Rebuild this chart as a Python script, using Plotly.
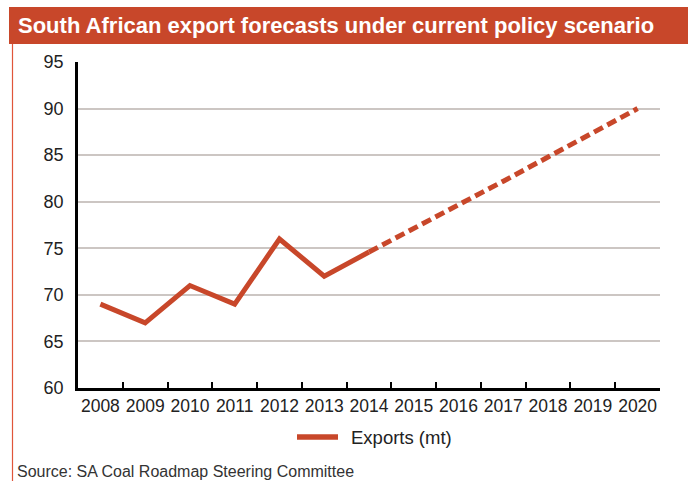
import plotly.graph_objects as go

years = ["2008", "2009", "2010", "2011", "2012", "2013", "2014",
         "2015", "2016", "2017", "2018", "2019", "2020"]
actual_years = years[:7]
actual_values = [69, 67, 71, 69, 76, 72, 74.6]
forecast_years = years[6:]
forecast_values = [74.6, 77.1, 79.6, 82.2, 84.8, 87.4, 90]

title_text = "South African export forecasts under current policy scenario"
source_text = "Source: SA Coal Roadmap Steering Committee"
series_name = "Exports (mt)"

RED = "#C8472A"
W, H = 688, 481
L, R, T, B = 78, 28, 62, 93
PW, PH = W - L - R, H - T - B


def px(x):
    return (x - L) / PW


def py(y):
    return (H - B - y) / PH


fig = go.Figure()
fig.add_trace(go.Scatter(x=actual_years, y=actual_values, mode="lines",
                         name=series_name,
                         line=dict(color=RED, width=5), showlegend=False))
fig.add_trace(go.Scatter(x=forecast_years, y=forecast_values, mode="lines",
                         name=series_name,
                         line=dict(color=RED, width=5, dash="10px,5px"),
                         showlegend=False))

fig.update_layout(
    width=W, height=H,
    margin=dict(l=L, r=R, t=T, b=B),
    paper_bgcolor="white", plot_bgcolor="white",
    font=dict(family="Liberation Sans, Arial, sans-serif", size=17.5, color="#222"),
    xaxis=dict(type="category", categoryorder="array", categoryarray=years,
               range=[-0.5, len(years) - 0.5], tickangle=0,
               tickson="boundaries", ticks="inside", ticklen=6, tickwidth=2,
               tickcolor="black", showline=True, linecolor="black", linewidth=2.5,
               showgrid=False, zeroline=False, tickfont=dict(size=17.5, color="#222")),
    yaxis=dict(range=[60, 95], dtick=5, showgrid=True, gridcolor="#CCC6C3",
               gridwidth=2, showline=True, linecolor="black", linewidth=2.5,
               zeroline=False, ticks="", ticklabelstandoff=8,
               tickfont=dict(size=18, color="#222")),
    showlegend=False,
)

fig.add_shape(type="rect", xref="paper", yref="paper",
              x0=px(9), x1=px(690), y0=py(44), y1=py(7),
              fillcolor=RED, line=dict(width=0), layer="above")
fig.add_shape(type="line", xref="paper", yref="paper",
              x0=px(12.5), x1=px(12.5), y0=py(44), y1=py(485),
              line=dict(color="#E0553A", width=1.2))

# legend (key line + label)
fig.add_shape(type="line", xref="paper", yref="paper",
              x0=px(297), x1=px(338), y0=py(437), y1=py(437),
              line=dict(color=RED, width=5.5))
fig.add_annotation(text=series_name, xref="paper", yref="paper",
                   x=px(349), y=py(437), xanchor="left", yanchor="middle",
                   showarrow=False, font=dict(size=18.5, color="#222"))

fig.add_annotation(text="<b>" + title_text + "</b>", xref="paper", yref="paper",
                   x=px(16), y=py(26), xanchor="left", yanchor="middle",
                   showarrow=False, font=dict(size=22, color="white",
                                              family="Liberation Sans, Arial, sans-serif"))
fig.add_annotation(text=source_text, xref="paper", yref="paper",
                   x=px(15), y=py(482), xanchor="left", yanchor="bottom",
                   showarrow=False, font=dict(size=16, color="#333"))

fig.write_html("out.html", config={"displayModeBar": False},
               post_script="document.body.style.margin='0';document.body.style.overflow='hidden';")
